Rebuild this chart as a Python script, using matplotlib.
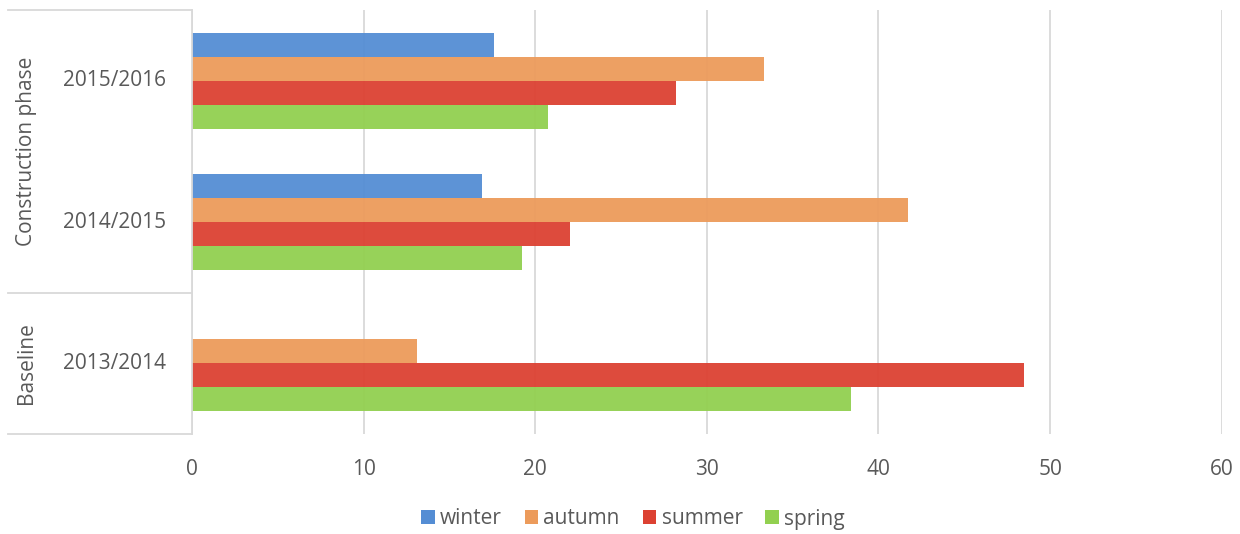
import matplotlib
matplotlib.use("Agg")
import matplotlib.pyplot as plt
import matplotlib.transforms as mtransforms
from matplotlib.patches import Patch
import numpy as np

categories = ["2013/2014", "2014/2015", "2015/2016"]
groups = ["Baseline", "Construction phase"]
group_spans = [(0, 0), (1, 2)]
series = ["winter", "autumn", "summer", "spring"]
winter = [0, 16.9, 17.6]
autumn = [13.1, 41.75, 33.35]
summer = [48.5, 22.05, 28.2]
spring = [38.4, 19.25, 20.75]
colors = ["#548DD4", "#EC9B5B", "#DC4132", "#92D050"]
xticks = [0, 10, 20, 30, 40, 50, 60]

plt.rcParams['font.family'] = ['Open Sans', 'DejaVu Sans']
txt = "#595959"
grid = "#D9D9D9"
fs = 15

fig = plt.figure(figsize=(12.4, 5.34), dpi=100)
ax = fig.add_axes([192/1240, 1-434/534, (1221.7-192)/1240, (434-10)/534])

values = [winter, autumn, summer, spring]
h = 0.17
offsets = [1.5*h, 0.5*h, -0.5*h, -1.5*h]
y = np.arange(len(categories))
for vals, off, c, name in zip(values, offsets, colors, series):
    ax.barh(y + off, vals, height=h, color=c, alpha=0.95, label=name, zorder=2, linewidth=0)

ax.set_xlim(0, 60)
ax.set_ylim(-0.5, 2.5)
ax.set_xticks(xticks)
ax.set_xticklabels([str(t) for t in xticks], color=txt, fontsize=fs)
ax.set_yticks([])
ax.tick_params(axis='both', length=0)
ax.tick_params(axis='x', pad=18)
ax.xaxis.grid(True, color=grid, linewidth=1.3, zorder=0)
ax.set_axisbelow(True)
for s in ['top', 'right', 'bottom']:
    ax.spines[s].set_visible(False)
ax.spines['left'].set_color(grid)
ax.spines['left'].set_linewidth(1.3)

trans = mtransforms.blended_transform_factory(ax.transAxes, ax.transData)
xl = -(192-8)/1029.7
for yy in [2.5, 0.5, -0.5]:
    ax.plot([xl, 0], [yy, yy], color=grid, linewidth=1.3, transform=trans, clip_on=False)

xc = -(192-115)/1029.7
for yi, cat in zip(y, categories):
    ax.text(xc, yi, cat, ha='center', va='center', color=txt, fontsize=fs, transform=trans)

xg = -(192-27)/1029.7
for g, (a, b) in zip(groups, group_spans):
    ax.text(xg, (a + b)/2, g, rotation=90, ha='center', va='center', color=txt,
            fontsize=fs, transform=trans)

handles = [Patch(facecolor=c, label=n) for c, n in zip(colors, series)]
fig.legend(handles=handles, loc='center', bbox_to_anchor=(633/1240, 1-519/534), ncol=4,
           frameon=False, fontsize=fs, handlelength=0.65, handleheight=0.65,
           handletextpad=0.25, columnspacing=1.1, labelcolor=txt)

fig.savefig("out.png", dpi=100)
